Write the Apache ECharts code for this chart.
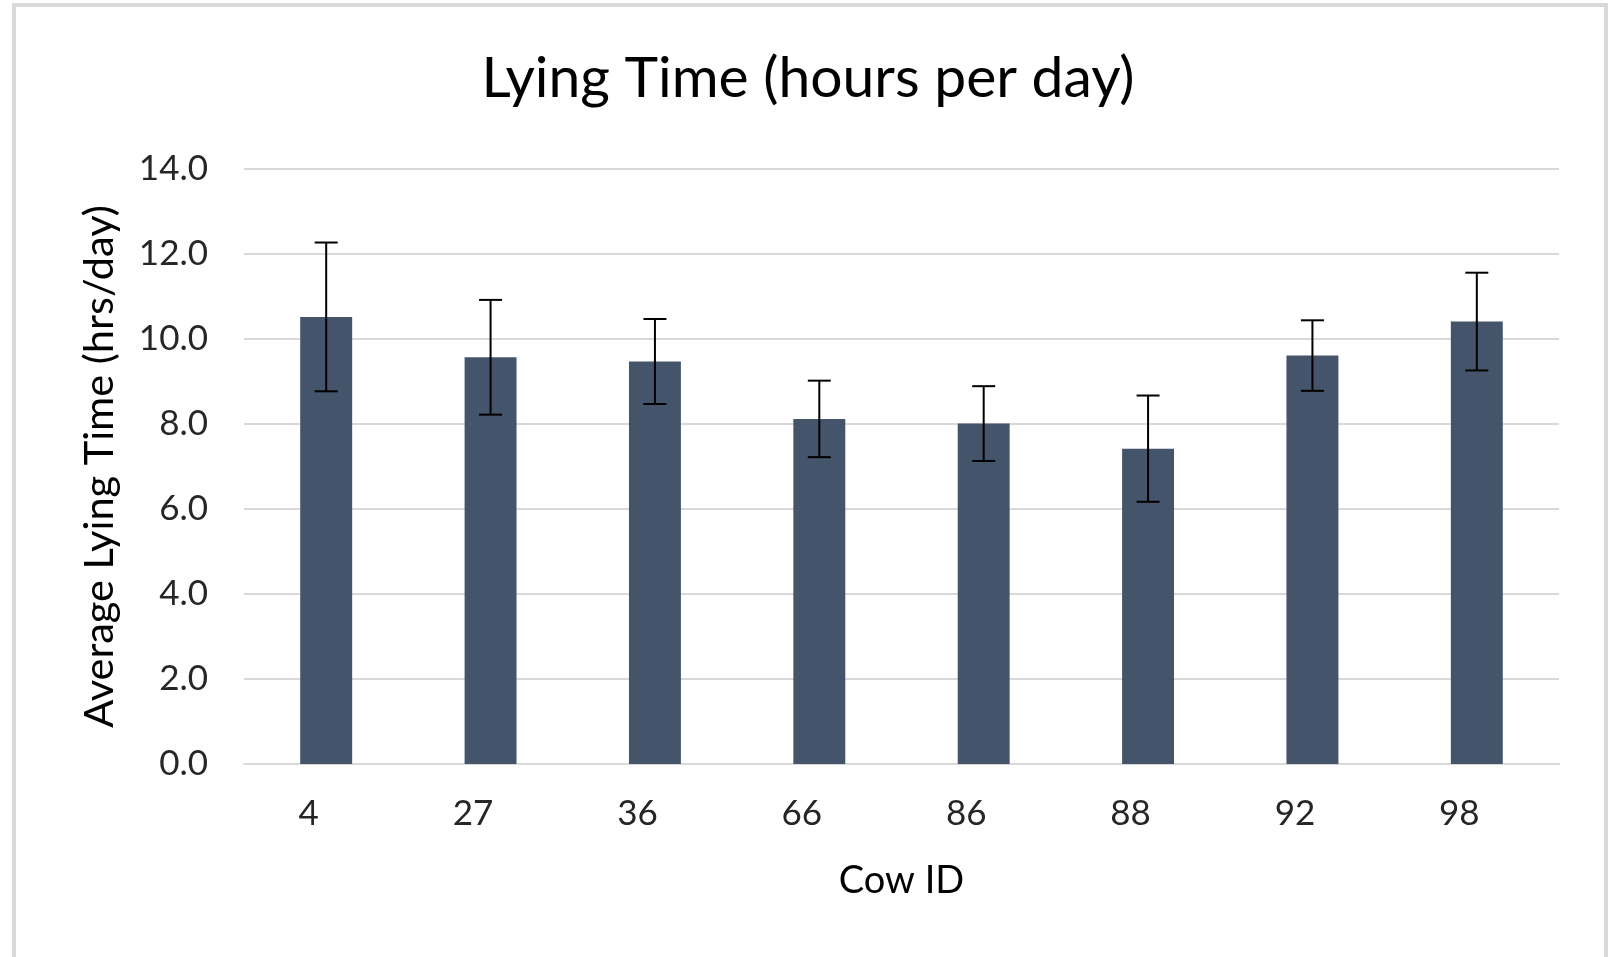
<!DOCTYPE html>
<html>
<head>
<meta charset="utf-8">
<title>Lying Time</title>
<script src="https://cdn.jsdelivr.net/npm/echarts@6/dist/echarts.min.js"></script>
<style>
  html, body { margin: 0; padding: 0; background: #fff; }
  #main { width: 1616px; height: 957px; }
</style>
</head>
<body>
<div id="main"></div>
<script>
// cow IDs on the x axis
var cowIds = ['4', '27', '36', '66', '86', '88', '92', '98'];
// average lying time, hrs/day
var lyingMeans = [10.52, 9.57, 9.47, 8.12, 8.01, 7.42, 9.61, 10.41];
// error bar half-length (+/-)
var lyingErr = [1.75, 1.35, 1.0, 0.9, 0.88, 1.25, 0.83, 1.15];

var FONT = 'Lato';

var chart = echarts.init(document.getElementById('main'));

var errData = [];
for (var i = 0; i < cowIds.length; i++) {
  errData.push([i, lyingMeans[i] - lyingErr[i], lyingMeans[i] + lyingErr[i]]);
}

function renderErr(params, api) {
  var lo = api.coord([api.value(0), api.value(1)]);
  var hi = api.coord([api.value(0), api.value(2)]);
  var half = 11.5;
  var st = { stroke: '#000', lineWidth: 2 };
  return {
    type: 'group',
    children: [
      { type: 'line', shape: { x1: lo[0], y1: lo[1], x2: hi[0], y2: hi[1] }, style: st },
      { type: 'line', shape: { x1: hi[0] - half, y1: hi[1], x2: hi[0] + half, y2: hi[1] }, style: st },
      { type: 'line', shape: { x1: lo[0] - half, y1: lo[1], x2: lo[0] + half, y2: lo[1] }, style: st }
    ]
  };
}

var option = {
  animation: false,
  backgroundColor: '#fff',
  textStyle: { fontFamily: FONT },
  title: {
    text: 'Lying Time (hours per day)',
    left: 'center',
    top: 45,
    textStyle: { fontFamily: FONT, fontSize: 57, fontWeight: 'normal', color: '#000' }
  },
  graphic: [{
    type: 'rect',
    shape: { x: 14, y: 5, width: 1592, height: 1000 },
    style: { fill: 'none', stroke: '#d9d9d9', lineWidth: 4 },
    silent: true
  }],
  grid: { left: 244, right: 57, top: 169, bottom: 193 },
  xAxis: {
    type: 'category',
    data: cowIds,
    name: 'Cow ID',
    nameLocation: 'middle',
    nameGap: 98,
    nameTextStyle: { fontFamily: FONT, fontSize: 38, color: '#000' },
    axisLine: { lineStyle: { color: '#d9d9d9', width: 2 } },
    axisTick: { show: false },
    // labels sit a little left of the bar centres in the original
    axisLabel: { fontFamily: FONT, fontSize: 35, color: '#262626', margin: 32, padding: [0, 35, 0, 0] }
  },
  yAxis: {
    type: 'value',
    min: 0,
    max: 14,
    interval: 2,
    name: 'Average Lying Time (hrs/day)',
    nameLocation: 'middle',
    nameGap: 123,
    nameTextStyle: { fontFamily: FONT, fontSize: 41.5, color: '#000' },
    axisLine: { show: false },
    axisTick: { show: false },
    splitLine: { lineStyle: { color: '#d9d9d9', width: 2 } },
    axisLabel: {
      fontFamily: FONT, fontSize: 35, color: '#262626', margin: 36,
      formatter: function (v) { return v.toFixed(1); }
    }
  },
  series: [
    {
      type: 'bar',
      data: lyingMeans,
      barWidth: '31.6%',
      itemStyle: { color: '#44546a' }
    },
    {
      type: 'custom',
      data: errData,
      renderItem: renderErr,
      z: 5
    }
  ]
};

chart.setOption(option);
</script>
</body>
</html>
